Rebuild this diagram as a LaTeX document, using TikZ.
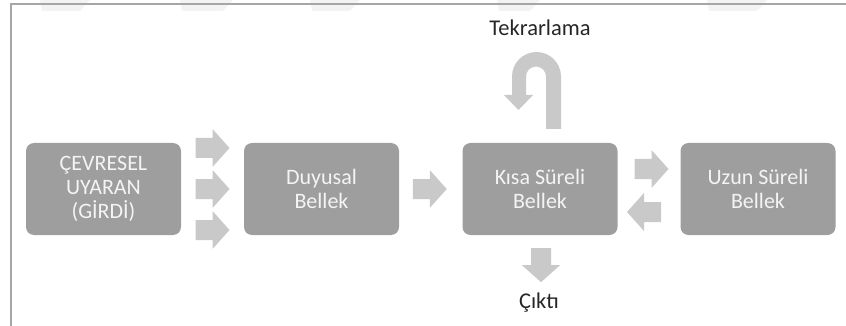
\documentclass[tikz,border=0pt]{standalone}
\usepackage{fontspec}
\setmainfont{Carlito}
\usetikzlibrary{calc}

\definecolor{boxgray}{HTML}{9E9E9E}
\definecolor{arrowgray}{HTML}{C9C9C9}
\definecolor{framegray}{HTML}{A6A6A6}
\definecolor{labeltext}{HTML}{262626}
\definecolor{boxtext}{HTML}{F4F4F4}
\definecolor{markgray}{HTML}{F3F3F3}

\begin{document}
\begin{tikzpicture}[x=1pt,y=-1pt,
  memorybox/.style={draw=none, fill=boxgray, rounded corners=8pt,
    minimum width=155pt, minimum height=92pt, inner sep=0pt,
    align=center, text=boxtext, font=\fontsize{22}{24}\selectfont},
  % a right-pointing block arrow, 34 long, head 38 wide, body 20 wide
  blockarrow/.pic={
    \fill[arrowgray] (-17,-10) -- (0,-10) -- (0,-19) -- (17,0)
      -- (0,19) -- (0,10) -- (-17,10) -- cycle;},
  caption/.style={text=labeltext, font=\fontsize{22.5}{26}\selectfont, inner sep=0pt},
  framerule/.style={draw=framegray, line width=2pt}
]
\useasboundingbox (0,0) rectangle (846,326);

% faint background stripes along the top edge
\foreach \xa/\xb in {40/90, 180/233, 310/360, 497/540, 707/767}
  \fill[markgray] (\xa,0) -- (\xb,0) -- (\xb-10,11) -- (\xa+2,11) -- cycle;

% frame: top and left rules
\draw[framerule] (10,4.5) -- (846,4.5);
\draw[framerule] (10.5,3.5) -- (10.5,326);

% memory stores
\node[memorybox] (cevre)   at (103.5,189) {ÇEVRESEL\\UYARAN\\(GİRDİ)};
\node[memorybox] (duyusal) at (321.5,189) {Duyusal\\Bellek};
\node[memorybox] (kisa)    at (540,189)   {Kısa Süreli\\Bellek};
\node[memorybox] (uzun)    at (758,189)   {Uzun Süreli\\Bellek};

% block arrows between the stores
\pic (in1) at ($(cevre.east)!0.5!(duyusal.west)+(0,-41)$) {blockarrow};
\pic (in2) at ($(cevre.east)!0.5!(duyusal.west)$) {blockarrow};
\pic (in3) at ($(cevre.east)!0.5!(duyusal.west)+(0,41)$) {blockarrow};
\pic (dk)  at ($(duyusal.east)!0.5!(kisa.west)+(-1,0)$) {blockarrow};
\pic (ku)  at ($(kisa.east)!0.5!(uzun.west)+(2.5,-20)$) {blockarrow};
\pic[rotate=180] (uk) at ($(kisa.east)!0.5!(uzun.west)+(-5,23)$) {blockarrow};
\pic[rotate=-90] (out) at ($(kisa.south)+(1,30)$) {blockarrow};

% rehearsal loop above the short-term store
\fill[arrowgray] (546,129) -- (561,129) -- (561,76.5)
  arc[start angle=0, end angle=-180, radius=24.5]
  -- (512,95) -- (504,95) -- (518.5,110) -- (533,95) -- (526,95) -- (526,76.5)
  arc[start angle=180, end angle=360, radius=10] -- cycle;

% captions
\node[caption, anchor=base] (tekrar) at (540,35.7) {Tekrarlama};
\node[caption, anchor=base] (cikti)  at (539,308)  {Çıktı};
\end{tikzpicture}
\end{document}
